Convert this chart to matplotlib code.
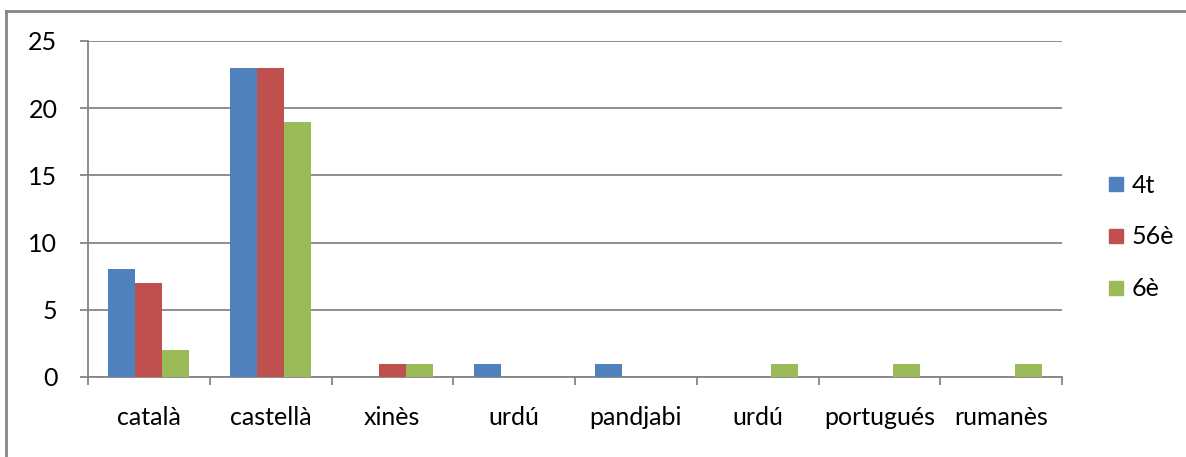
import matplotlib.pyplot as plt
from matplotlib.lines import Line2D
import numpy as np

# chart data
categories = ["català", "castellà", "xinès", "urdú", "pandjabi", "urdú", "portugués", "rumanès"]
series_names = ["4t", "56è", "6è"]
vals_4t = [8, 23, 0, 1, 1, 0, 0, 0]
vals_56e = [7, 23, 1, 0, 0, 0, 0, 0]
vals_6e = [2, 19, 1, 0, 0, 1, 1, 1]
colors = ["#4F81BD", "#C0504D", "#9BBB59"]

plt.rcParams['font.family'] = ['Lato', 'DejaVu Sans']
fs = 18

W, H = 1186, 457
fig = plt.figure(figsize=(W / 100, H / 100), dpi=100)
ax = fig.add_axes([88 / W, 1 - 377 / H, (1062 - 88) / W, (377 - 41) / H])

x = np.arange(len(categories))
bw = 0.222
for i, (vals, name) in enumerate(zip([vals_4t, vals_56e, vals_6e], series_names)):
	ax.bar(x + (i - 1) * bw, vals, width=bw, color=colors[i], label=name, zorder=3)

ax.set_xlim(-0.5, len(categories) - 0.5)
ax.set_ylim(0, 25)
ax.set_yticks(range(0, 26, 5))
ax.yaxis.grid(True, color="#868686", linewidth=1.3, zorder=0)
ax.set_axisbelow(True)

# category labels between boundary ticks
ax.set_xticks(np.arange(-0.5, len(categories)), minor=False)
ax.set_xticklabels([])
ax.set_xticks(x, minor=True)
ax.set_xticklabels(categories, minor=True, fontsize=fs)
ax.tick_params(axis="x", which="minor", length=0, pad=21)
ax.tick_params(axis="x", which="major", length=6, width=1.3, color="#868686", direction="out")
ax.tick_params(axis="y", length=6, width=1.3, color="#868686", labelsize=fs, pad=16)

for s in ["top", "right"]:
	ax.spines[s].set_visible(False)
for s in ["left", "bottom"]:
	ax.spines[s].set_color("#868686")
	ax.spines[s].set_linewidth(1.3)

# legend
handles = [Line2D([0], [0], marker="s", linestyle="", markersize=10,
	markerfacecolor=c, markeredgecolor=c) for c in colors]
fig.legend(handles, series_names, loc="center left", bbox_to_anchor=(1078 / W, 1 - 237 / H),
	frameon=False, fontsize=fs, labelspacing=1.15, handletextpad=0.05, handlelength=1.2)

# outer frame (only top and left visible in crop)
fig.add_artist(Line2D([6 / W, 6 / W], [0, 1 - 11 / H], transform=fig.transFigure, color="#868686", linewidth=2))
fig.add_artist(Line2D([6 / W, 1], [1 - 11 / H, 1 - 11 / H], transform=fig.transFigure, color="#868686", linewidth=2))

fig.savefig("out.png", dpi=100)
